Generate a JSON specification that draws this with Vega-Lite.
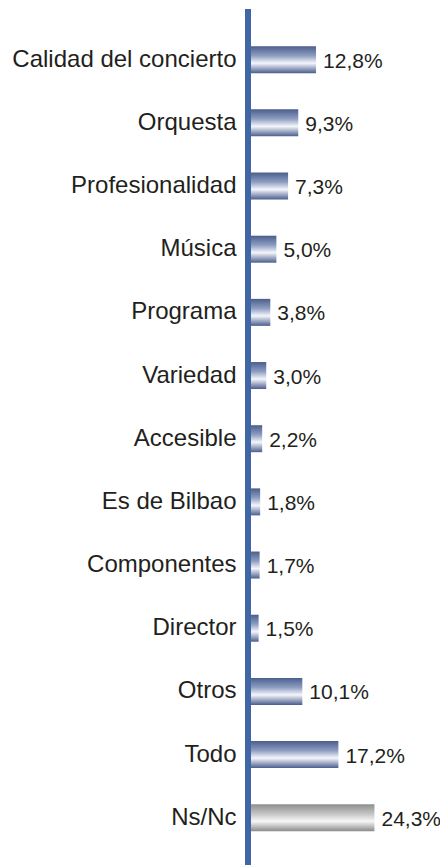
{
  "$schema": "https://vega.github.io/schema/vega-lite/v6.json",
  "autosize": {"type": "none"},
  "padding": {"left": 251, "top": 9, "right": 0, "bottom": 0},
  "width": 189,
  "height": 856,
  "background": "white",
  "config": {
    "view": {"stroke": null},
    "locale": {"number": {"decimal": ",", "thousands": ".", "grouping": [3], "currency": ["", " €"], "percent": "%"}}
  },
  "data": {
    "values": [
      {"categoria": "Calidad del concierto", "v": 0.128},
      {"categoria": "Orquesta", "v": 0.093},
      {"categoria": "Profesionalidad", "v": 0.073},
      {"categoria": "Música", "v": 0.050},
      {"categoria": "Programa", "v": 0.038},
      {"categoria": "Variedad", "v": 0.030},
      {"categoria": "Accesible", "v": 0.022},
      {"categoria": "Es de Bilbao", "v": 0.018},
      {"categoria": "Componentes", "v": 0.017},
      {"categoria": "Director", "v": 0.015},
      {"categoria": "Otros", "v": 0.101},
      {"categoria": "Todo", "v": 0.172},
      {"categoria": "Ns/Nc", "v": 0.243}
    ]
  },
  "encoding": {
    "y": {
      "field": "categoria", "type": "nominal", "sort": null,
      "scale": {"paddingInner": 0.5726, "paddingOuter": 0.5618, "align": 0.524},
      "axis": {"title": null, "domain": false, "ticks": false, "labelPadding": 15, "labelLimit": 400,
               "labelFont": "Liberation Sans", "labelFontSize": 24, "labelColor": "#231f20"}
    },
    "x": {
      "field": "v", "type": "quantitative",
      "scale": {"domain": [0, 0.372], "nice": false, "zero": true},
      "axis": null
    }
  },
  "layer": [
    {
      "mark": {"type": "bar", "cornerRadius": 0},
      "encoding": {
        "color": {
          "condition": {
            "test": "datum.categoria === 'Ns/Nc'",
            "value": {"gradient": "linear", "x1": 0, "y1": 0, "x2": 0, "y2": 1,
              "stops": [{"offset": 0, "color": "#8e8e8e"}, {"offset": 0.35, "color": "#c4c4c4"}, {"offset": 0.63, "color": "#f7f7f7"}, {"offset": 1, "color": "#8a8a8a"}]}
          },
          "value": {"gradient": "linear", "x1": 0, "y1": 0, "x2": 0, "y2": 1,
            "stops": [{"offset": 0, "color": "#4b5d8d"}, {"offset": 0.35, "color": "#8d9dc1"}, {"offset": 0.63, "color": "#f4f6fb"}, {"offset": 1, "color": "#4b5d8d"}]}
        }
      }
    },
    {
      "mark": {"type": "text", "align": "left", "baseline": "middle", "dx": 7, "dy": 2,
               "font": "Liberation Sans", "fontSize": 21, "color": "#231f20"},
      "encoding": {"text": {"field": "v", "type": "quantitative", "format": ".1%"}}
    },
    {
      "mark": {"type": "rule", "color": "#4066a3", "strokeWidth": 5, "xOffset": -3},
      "encoding": {"x": {"datum": 0, "type": "quantitative"}, "y": null}
    }
  ]
}
